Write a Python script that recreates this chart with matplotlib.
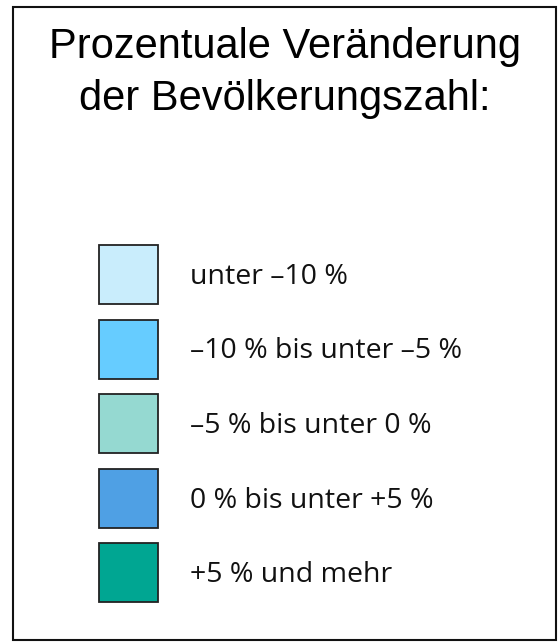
#Legend: population change in percent
import matplotlib.pyplot as plt
from matplotlib.patches import Rectangle

#legend content
TITLE = ["Prozentuale Veränderung", "der Bevölkerungszahl:"]
labels = ["unter \u201310 %", "\u201310 % bis unter \u20135 %", "\u20135 % bis unter 0 %",
          "0 % bis unter +5 %", "+5 % und mehr"]
colors = ["#c9edfc", "#66ccff", "#95d9d1", "#4fa0e4", "#00a692"]

W, H = 559, 642
fig = plt.figure(figsize=(W / 100, H / 100), dpi=100)
ax = fig.add_axes([0, 0, 1, 1])
ax.set_xlim(0, W)
ax.set_ylim(H, 0)
ax.axis("off")

#outer frame
ax.add_patch(Rectangle((13, 7), 543, 633, fill=False, edgecolor="#111111", linewidth=1.5))

for j, line in enumerate(TITLE):
    ax.text(285, 47 + j * 52, line, ha="center", va="center", fontsize=30,
            family="Liberation Sans")

#swatches and labels
for i, (lab, col) in enumerate(zip(labels, colors)):
    y = 245 + i * 74.5
    ax.add_patch(Rectangle((99, y), 59, 59, facecolor=col, edgecolor="#222222", linewidth=1.3))
    ax.text(190, y + 39, lab, ha="left", va="baseline", fontsize=20.5, family="Open Sans",
            color="#111111")

fig.savefig("out.png", dpi=100)
